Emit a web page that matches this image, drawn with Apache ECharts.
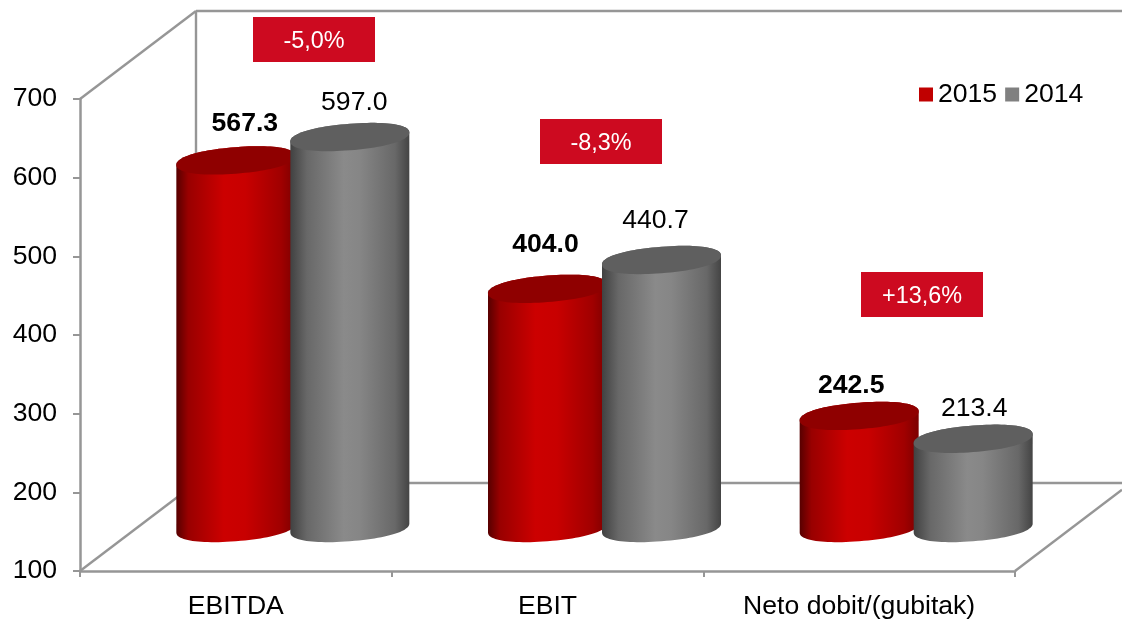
<!DOCTYPE html>
<html>
<head>
<meta charset="utf-8">
<style>html,body{margin:0;padding:0;background:#fff}#c{width:1122px;height:620px}</style>
<script src="https://cdn.jsdelivr.net/npm/echarts@6/dist/echarts.min.js"></script>
</head>
<body>
<div id="c"></div>
<script>
var categories = ['EBITDA', 'EBIT', 'Neto dobit/(gubitak)'];
var values2015 = [567.3, 404.0, 242.5];
var values2014 = [597.0, 440.7, 213.4];
var changeLabels = ['-5,0%', '-8,3%', '+13,6%'];

var FONT = '"Liberation Sans", Arial, sans-serif';
var WALL = '#969696';
var DEPTH_X = 116, DEPTH_Y = 88;          // box depth in pixels
var BASE_LIFT = 43;                       // cylinders stand mid-depth on the floor
var HALF_W = 59.5, HALF_H = 14, TILT = 0.33, ROUND = 0.92; // cylinder ellipse
var PAIR_STEP = 114;                      // distance between cylinders of a pair
var labelOffsets2015 = [[9, -37], [-2, -44], [-8, -30]];
var labelOffsets2014 = [[4.5, -34], [-6, -39], [1, -30]];
var changeBoxes = [[253, 17], [540, 119], [861, 272]];

function signedPow(v, p) { return (v < 0 ? -1 : 1) * Math.pow(Math.abs(v), p); }
function ellipsePoint(cx, cy, t) {
  var u = signedPow(Math.cos(t), ROUND);
  var v = signedPow(Math.sin(t), ROUND);
  return [cx + HALF_W * u, cy + HALF_H * (v * Math.cos(TILT) - u * Math.sin(TILT))];
}
function fullEllipse(cx, cy) {
  var pts = [];
  for (var i = 0; i < 96; i++) pts.push(ellipsePoint(cx, cy, i / 96 * Math.PI * 2));
  return pts;
}
function body(cx, topY, baseY) {
  var pts = [];
  var i;
  for (i = 0; i <= 48; i++) pts.push(ellipsePoint(cx, baseY, i / 48 * Math.PI));
  for (i = 48; i >= 0; i--) pts.push(ellipsePoint(cx, topY, -i / 48 * Math.PI));
  return pts;
}
function sideFill(stops) {
  return new echarts.graphic.LinearGradient(0, 0, 1, 0, stops);
}
var redSide = [
  {offset: 0, color: '#570000'}, {offset: 0.1, color: '#990000'},
  {offset: 0.4, color: '#cc0000'}, {offset: 0.58, color: '#c80000'},
  {offset: 0.88, color: '#a00000'}, {offset: 1, color: '#7c0000'}
];
var greySide = [
  {offset: 0, color: '#414141'}, {offset: 0.14, color: '#686868'},
  {offset: 0.45, color: '#8a8a8a'}, {offset: 0.58, color: '#868686'},
  {offset: 0.88, color: '#686868'}, {offset: 1, color: '#444444'}
];

function cylinderSeries(name, values, pairIndex, stops, topColor, legendColor, offsets, bold) {
  return {
    name: name,
    type: 'custom',
    coordinateSystem: 'cartesian2d',
    encode: {x: 0, y: 1},
    itemStyle: {color: legendColor},
    clip: false,
    z: 3 + pairIndex,
    data: values.map(function (v, i) { return [i, v]; }),
    renderItem: function (params, api) {
      var i = api.value(0);
      var p = api.coord([i, api.value(1)]);
      var floor = api.coord([i, 100]);
      var cx = p[0] + pairIndex * PAIR_STEP;
      var topY = p[1] - BASE_LIFT;
      var baseY = floor[1] - BASE_LIFT;
      var off = offsets[params.dataIndex];
      return {
        type: 'group',
        children: [
          {type: 'polygon', shape: {points: body(cx, topY, baseY)},
            style: {fill: sideFill(stops)}},
          {type: 'polygon', shape: {points: fullEllipse(cx, topY)},
            style: {fill: topColor}},
          {type: 'text', x: cx + off[0], y: topY + off[1], z2: 50,
            style: {text: api.value(1).toFixed(1), fill: '#000',
              font: (bold ? 'bold ' : '') + '26.6px ' + FONT,
              align: 'center', verticalAlign: 'middle'}}
        ]
      };
    }
  };
}

var wallSeries = {
  type: 'custom',
  coordinateSystem: 'cartesian2d',
  clip: false,
  silent: true,
  z: 1,
  encode: {x: 0, y: 1},
  data: [[0, 100]],
  renderItem: function (params, api) {
    var bl = api.coord([0, 100]);
    var tl = api.coord([0, 700]);
    var band = api.size([1, 0])[0];
    var left = bl[0] - band / 2;
    var right = left + band * categories.length;
    var bottom = bl[1];
    var top = tl[1];
    var edge = 1122;
    var run = edge - right;
    function seg(x1, y1, x2, y2, w) {
      return {type: 'line', shape: {x1: x1, y1: y1, x2: x2, y2: y2},
        style: {stroke: WALL, lineWidth: w || 2, fill: null}};
    }
    return {
      type: 'group',
      children: [
        seg(left, top, left + DEPTH_X, top - DEPTH_Y, 2.4),
        seg(left + DEPTH_X, top - DEPTH_Y, edge, top - DEPTH_Y, 2.6),
        seg(left + DEPTH_X, top - DEPTH_Y, left + DEPTH_X, bottom - DEPTH_Y, 2.4),
        seg(left + DEPTH_X, bottom - DEPTH_Y, edge, bottom - DEPTH_Y, 2.6),
        seg(left, bottom, left + DEPTH_X, bottom - DEPTH_Y, 2.4),
        seg(right, bottom, edge, bottom - run * DEPTH_Y / DEPTH_X, 2.4)
      ]
    };
  }
};

var chart = echarts.init(document.getElementById('c'), null, {renderer: 'canvas'});
chart.setOption({
  animation: false,
  backgroundColor: '#ffffff',
  grid: {left: 80, right: 107, top: 99, bottom: 48, containLabel: false},
  legend: {
    data: ['2015', '2014'],
    left: 914, top: 76,
    icon: 'rect',
    itemWidth: 14, itemHeight: 14,
    itemGap: 8,
    textStyle: {fontFamily: FONT, fontSize: 26.6, color: '#000', padding: [6, 0, 0, 0]},
    selectedMode: false
  },
  xAxis: {
    type: 'category',
    data: categories,
    axisLine: {lineStyle: {color: WALL, width: 2.5}},
    axisTick: {show: true, length: 6, lineStyle: {color: WALL, width: 2}},
    axisLabel: {color: '#000', fontFamily: FONT, fontSize: 26.6, margin: 22, interval: 0},
    splitLine: {show: false}
  },
  yAxis: {
    type: 'value',
    min: 100, max: 700, interval: 100,
    axisLine: {show: true, lineStyle: {color: WALL, width: 2.5}},
    axisTick: {show: true, length: 7, lineStyle: {color: WALL, width: 2}},
    axisLabel: {color: '#000', fontFamily: FONT, fontSize: 26.6, margin: 23, padding: [7, 0, 0, 0]},
    splitLine: {show: false}
  },
  graphic: changeLabels.map(function (t, i) {
    return {
      type: 'group', left: changeBoxes[i][0], top: changeBoxes[i][1], z: 20,
      children: [
        {type: 'rect', shape: {x: 0, y: 0, width: 122, height: 45}, style: {fill: '#cd0a20'}},
        {type: 'text', x: 61, y: 25, style: {text: t, fill: '#fff', font: '23.4px ' + FONT,
          align: 'center', verticalAlign: 'middle'}}
      ]
    };
  }),
  series: [
    wallSeries,
    cylinderSeries('2015', values2015, 0, redSide, '#8f0000', '#c00000', labelOffsets2015, true),
    cylinderSeries('2014', values2014, 1, greySide, '#5f5f5f', '#808080', labelOffsets2014, false)
  ]
});
</script>
</body>
</html>
